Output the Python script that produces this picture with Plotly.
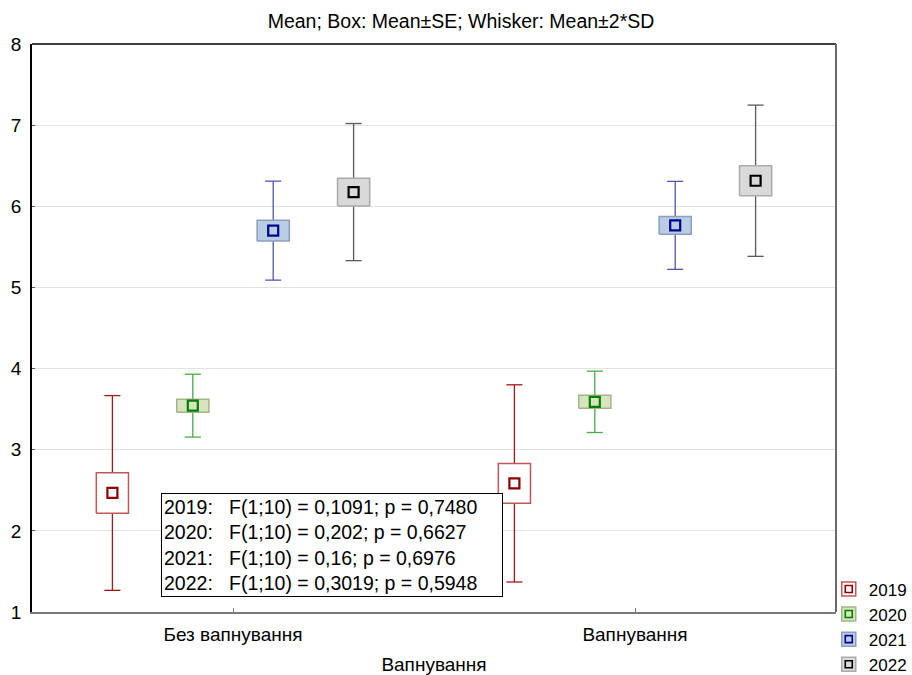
import plotly.graph_objects as go

# ---------------- data ----------------
groups = ["Без вапнування", "Вапнування"]
years = ["2019", "2020", "2021", "2022"]

mean_2019 = [2.467, 2.585]
se_2019 = [0.250, 0.246]
sd2_2019 = [1.200, 1.215]

mean_2020 = [3.543, 3.590]
se_2020 = [0.080, 0.080]
sd2_2020 = [0.387, 0.378]

mean_2021 = [5.700, 5.765]
se_2021 = [0.127, 0.109]
sd2_2021 = [0.610, 0.542]

mean_2022 = [6.175, 6.315]
se_2022 = [0.172, 0.186]
sd2_2022 = [0.845, 0.932]

stats_lines = [
    "2019:   F(1;10) = 0,1091; p = 0,7480",
    "2020:   F(1;10) = 0,202; p = 0,6627",
    "2021:   F(1;10) = 0,16; p = 0,6976",
    "2022:   F(1;10) = 0,3019; p = 0,5948",
]

title_text = "Mean; Box: Mean±SE; Whisker: Mean±2*SD"
x_title = "Вапнування"

# ---------------- styles ----------------
means = [mean_2019, mean_2020, mean_2021, mean_2022]
ses = [se_2019, se_2020, se_2021, se_2022]
sd2s = [sd2_2019, sd2_2020, sd2_2021, sd2_2022]

offsets = [-0.3, -0.1, 0.1, 0.3]
box_w = 0.08
cap_hw = 0.02

box_fill = ["#ffffff", "#d7e4bd", "#b9cde5", "#d9d9d9"]
box_line = ["#c05858", "#a4b48a", "#8c9fbe", "#ababab"]
whisk_col = ["#a01818", "#4aa84a", "#5454ac", "#5a5a5a"]
mark_col = ["#8b0000", "#008000", "#000090", "#000000"]
mark_fill = ["#ffffff", "#d7e4bd", "#b9cde5", "#d9d9d9"]

FONT = "Liberation Sans, Arial, sans-serif"

W, H = 912, 675

fig = go.Figure()

for i, yr in enumerate(years):
    wx, wy = [], []
    bx, by = [], []
    mx, my = [], []
    for g in range(len(groups)):
        xc = g + offsets[i]
        m = means[i][g]
        se = ses[i][g]
        s2 = sd2s[i][g]
        lo, hi = m - s2, m + s2
        wx += [xc, xc, None, xc - cap_hw, xc + cap_hw, None, xc - cap_hw, xc + cap_hw, None]
        wy += [lo, hi, None, hi, hi, None, lo, lo, None]
        x0, x1 = xc - box_w / 2, xc + box_w / 2
        bx += [x0, x1, x1, x0, x0, None]
        by += [m - se, m - se, m + se, m + se, m - se, None]
        mx.append(xc)
        my.append(m)
    fig.add_trace(go.Scatter(x=wx, y=wy, mode="lines", line=dict(color=whisk_col[i], width=1.3),
                             showlegend=False, hoverinfo="skip"))
    fig.add_trace(go.Scatter(x=bx, y=by, mode="lines", fill="toself", fillcolor=box_fill[i],
                             line=dict(color=box_line[i], width=1.5), showlegend=False, hoverinfo="skip"))
    fig.add_trace(go.Scatter(x=mx, y=my, mode="markers",
                             marker=dict(symbol="square", size=10, color=mark_fill[i],
                                         line=dict(color=mark_col[i], width=2.2)),
                             showlegend=False, name=yr))

for i, yr in enumerate(years):
    fig.add_trace(go.Scatter(x=[None], y=[None], mode="markers", name=yr, legend="legend",
                             marker=dict(symbol="square", size=14, color=box_fill[i],
                                         line=dict(color=box_line[i], width=1.5))))
for i, yr in enumerate(years):
    fig.add_trace(go.Scatter(x=[None], y=[None], mode="markers", name=yr, legend="legend2",
                             marker=dict(symbol="square", size=7, color=mark_fill[i],
                                         line=dict(color=mark_col[i], width=1.6))))

fig.add_annotation(
    text="<br>".join(stats_lines), xref="paper", yref="paper",
    x=0.1604, y=0.2095, xanchor="left", yanchor="top", align="left",
    showarrow=False, font=dict(family=FONT, size=19.5, color="black"),
    bordercolor="black", borderwidth=1, borderpad=2, bgcolor="white", width=336,
)

leg_common = dict(x=0.991, y=0.0715, xanchor="left", yanchor="top", bgcolor="rgba(0,0,0,0)",
                  borderwidth=0, tracegroupgap=0)
fig.update_layout(
    width=W, height=H,
    margin=dict(l=32, r=76, t=44, b=63, autoexpand=False),
    paper_bgcolor="white", plot_bgcolor="white",
    font=dict(family=FONT, size=19, color="black"),
    title=dict(text=title_text, x=461 / W, xref="container", xanchor="center",
               y=1 - 21 / H, yref="container", yanchor="middle",
               font=dict(family=FONT, size=19.5, color="black")),
    legend=dict(**leg_common, font=dict(family=FONT, size=17, color="black")),
    legend2=dict(**leg_common, font=dict(family=FONT, size=17, color="rgba(0,0,0,0)")),
    xaxis=dict(range=[-0.5, 1.5], tickvals=list(range(len(groups))), ticktext=groups,
               showgrid=False, zeroline=False, showline=True, linecolor="#7a7a7a", linewidth=2,
               ticks="inside", ticklen=4, tickcolor="#7a7a7a", ticklabelstandoff=4,
               title=dict(text=x_title, standoff=15, font=dict(family=FONT, size=19)),
               automargin=False, fixedrange=True),
    yaxis=dict(range=[1, 8], dtick=1, showgrid=True, gridcolor="#e2e2e2", gridwidth=1,
               zeroline=False, showline=True, linecolor="black", linewidth=1.5,
               ticks="inside", ticklen=3, tickcolor="#555", ticklabelstandoff=5,
               automargin=False, fixedrange=True),
    showlegend=True,
)

fig.add_shape(type="line", xref="paper", yref="paper", x0=0, x1=1, y0=1, y1=1,
              line=dict(color="black", width=1.5))
fig.add_shape(type="line", xref="paper", yref="paper", x0=1, x1=1, y0=0, y1=1,
              line=dict(color="#6a6a6a", width=2))

# remove the default 8px page margin so the 912x675 figure fills the window exactly
fig.write_html("out.html", config={"displayModeBar": False},
               post_script="document.body.style.margin='0px';document.body.style.overflow='hidden';")
